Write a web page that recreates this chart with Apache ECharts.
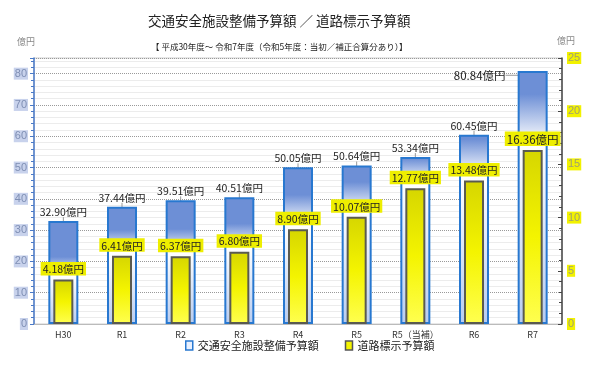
<!DOCTYPE html>
<html><head><meta charset="utf-8">
<script src="https://cdn.jsdelivr.net/npm/echarts@6/dist/echarts.min.js"></script>
<style>html,body{margin:0;padding:0;background:#fff}#c{width:590px;height:366px}</style>
</head><body><div id="c"></div>
<script>
var categories = ['H30','R1','R2','R3','R4','R5','R5（当補）','R6','R7'];
var safetyBudget = [32.90,37.44,39.51,40.51,50.05,50.64,53.34,60.45,80.84];
var markingBudget = [4.18,6.41,6.37,6.80,8.90,10.07,12.77,13.48,16.36];
var leftTicks = {min:0, max:85, interval:10};
var rightTicks = {min:0, max:25, interval:5};
var seriesNames = ['交通安全施設整備予算額','道路標示予算額'];

var FONT = '"Noto Sans CJK JP", "Noto Sans", sans-serif';
var BLUE = '#6d8fd6';
var chart = echarts.init(document.getElementById('c'), null, {renderer:'canvas'});

function blueGrad(i){
  var ratio = 1 - (markingBudget[i]*leftTicks.max/rightTicks.max)/safetyBudget[i];
  var a = Math.max(0.01, ratio-0.22), b = Math.max(a+0.01, ratio-0.03);
  return new echarts.graphic.LinearGradient(0,0,0,1,[
    {offset:0,color:BLUE},{offset:a,color:BLUE},{offset:b,color:'#ffffff'},{offset:1,color:'#b8ccf0'}]);
}
var last = categories.length-1;
var blueData = safetyBudget.map(function(v,i){
  var d = {value:v, itemStyle:{color:blueGrad(i)}};
  if(i===last){ d.label = {fontSize:11.5}; }
  return d;
});
var yellowData = markingBudget.map(function(v,i){
  var d = {value:v};
  if(i===last){ d.label = {fontSize:11.5}; }
  return d;
});

chart.setOption({
  animation:false,
  textStyle:{fontFamily:FONT},
  title:[
    {text:'交通安全施設整備予算額 ／ 道路標示予算額', left:143, top:9,
     textStyle:{fontSize:13.5, fontWeight:'normal', color:'#222', fontFamily:FONT}},
    {text:'【 平成30年度～ 令和7年度（令和5年度：当初／補正合算分あり）】', left:146, top:38,
     textStyle:{fontSize:8.5, fontWeight:'normal', color:'#222', fontFamily:FONT}}
  ],
  graphic:[
    {type:'text', left:17, top:37, style:{text:'億円', fontSize:9, fill:'#888', fontFamily:FONT}},
    {type:'text', left:557, top:36, style:{text:'億円', fontSize:9, fill:'#888', fontFamily:FONT}}
  ],
  legend:{
    bottom:10, left:180, itemWidth:7, itemHeight:9, itemGap:26,
    textStyle:{fontSize:11, color:'#222', fontFamily:FONT},
    data:[
      {name:seriesNames[0], icon:'rect', itemStyle:{color:'#e8f0ff', borderColor:'#2878d0', borderWidth:1.5}},
      {name:seriesNames[1], icon:'rect', itemStyle:{color:'#f4f400', borderColor:'#555', borderWidth:1.5}}
    ]
  },
  grid:{left:34, right:28, top:58, bottom:42, show:true, borderColor:'#cfcfcf', borderWidth:1, backgroundColor:'#fff'},
  xAxis:[
    {type:'category', data:categories, axisLine:{show:true, lineStyle:{color:'#bbb'}}, axisTick:{show:false},
     axisLabel:{interval:0, fontSize:9, color:'#333', margin:6, fontFamily:FONT}},
    {type:'category', data:categories, show:false}
  ],
  yAxis:[
    {type:'value', min:leftTicks.min, max:leftTicks.max, interval:leftTicks.interval, position:'left',
     axisLine:{show:true, lineStyle:{color:'#4a7ac8', width:1.5}},
     axisTick:{show:true, length:4, lineStyle:{color:'#4a7ac8'}},
     minorTick:{show:true, splitNumber:5, length:3, lineStyle:{color:'#4a7ac8'}},
     axisLabel:{showMaxLabel:false, fontSize:11, color:'#7f8fb4', backgroundColor:'#c8d2ec', padding:[1,1,0,1], margin:6, fontFamily:'"Liberation Sans", Arial, sans-serif'},
     splitLine:{show:true, lineStyle:{color:'#9a9a9a', type:'dotted'}},
     minorSplitLine:{show:true, lineStyle:{color:'#ececec'}}
    },
    {type:'value', min:rightTicks.min, max:rightTicks.max, interval:rightTicks.interval, position:'right',
     axisLine:{show:true, lineStyle:{color:'#444', width:1.5}},
     axisTick:{show:true, inside:true, length:4, lineStyle:{color:'#444'}},
     minorTick:{show:true, splitNumber:5, length:3, lineStyle:{color:'#444'}},
     axisLabel:{fontSize:11, color:'#a0a070', backgroundColor:'#f2f200', padding:[1,1,0,1], margin:5, fontFamily:'"Liberation Sans", Arial, sans-serif'},
     splitLine:{show:false}
    }
  ],
  series:[
    {name:seriesNames[0], type:'bar', xAxisIndex:0, yAxisIndex:0, barWidth:30, z:2,
     data:blueData,
     itemStyle:{color:BLUE, borderColor:'#2878d0', borderWidth:2},
     label:{show:true, position:'top', distance:4, fontSize:10.5, color:'#222', fontFamily:FONT,
       formatter:function(p){return p.value.toFixed(2)+'億円';}},
     labelLine:{show:true, lineStyle:{color:'#999', width:1}},
     labelLayout:function(p){ if(p.dataIndex===last){ return {dx:-53, dy:14}; } return {}; }
    },
    {name:seriesNames[1], type:'bar', xAxisIndex:1, yAxisIndex:1, barWidth:20, z:3,
     data:yellowData,
     itemStyle:{borderColor:'#5a5a50', borderWidth:2,
       color:new echarts.graphic.LinearGradient(0,0,0,1,[{offset:0,color:'#d6d600'},{offset:0.5,color:'#f4f400'},{offset:1,color:'#ffff50'}])},
     label:{show:true, position:'top', distance:4, fontSize:10.5, color:'#222', fontFamily:FONT,
       backgroundColor:'#eeee00', padding:[2,2,1,2],
       formatter:function(p){return p.value.toFixed(2)+'億円';}}
    }
  ]
});
</script></body></html>
